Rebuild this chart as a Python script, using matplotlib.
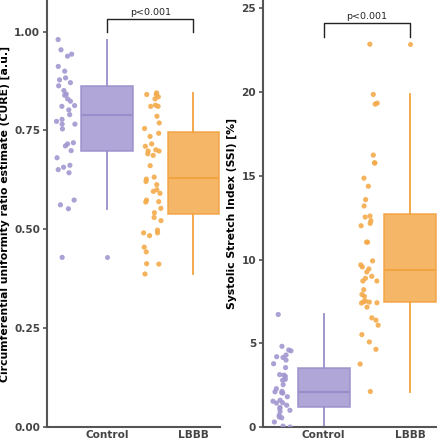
import numpy as np
import matplotlib
matplotlib.use("Agg")
import matplotlib.pyplot as plt

groups = ["Control", "LBBB"]

cure_control = [0.980, 0.954, 0.943, 0.938, 0.912, 0.900, 0.883, 0.878, 0.871, 0.863,
                0.851, 0.842, 0.839, 0.830, 0.824, 0.813, 0.811, 0.802, 0.790, 0.778,
                0.773, 0.766, 0.766, 0.754, 0.719, 0.716, 0.711, 0.699, 0.681, 0.662,
                0.657, 0.651, 0.643, 0.574, 0.562, 0.552, 0.429]
cure_lbbb = [0.845, 0.841, 0.841, 0.835, 0.830, 0.814, 0.811, 0.811, 0.786, 0.769,
             0.755, 0.743, 0.735, 0.716, 0.710, 0.701, 0.698, 0.698, 0.691, 0.687,
             0.661, 0.632, 0.627, 0.621, 0.613, 0.600, 0.596, 0.591, 0.574, 0.570,
             0.569, 0.553, 0.542, 0.530, 0.522, 0.498, 0.491, 0.491, 0.484, 0.455,
             0.443, 0.413, 0.412, 0.387]

ssi_control = [6.72, 4.82, 4.60, 4.55, 4.30, 4.20, 4.15, 4.00, 3.78, 3.55,
               3.13, 3.10, 3.03, 2.85, 2.79, 2.53, 2.29, 2.13, 2.10, 2.05,
               2.03, 1.81, 1.60, 1.54, 1.45, 1.43, 1.30, 1.17, 1.10, 1.00,
               0.93, 0.70, 0.60, 0.55, 0.30, 0.05, 0.00]
ssi_lbbb = [22.86, 19.86, 19.34, 19.28, 16.24, 15.78, 15.76, 14.86, 14.38, 13.58,
            13.20, 12.60, 12.54, 12.32, 12.16, 12.02, 11.04, 11.04, 9.92, 9.68,
            9.56, 9.44, 9.26, 9.00, 8.88, 8.72, 8.72, 8.20, 7.92, 7.80,
            7.52, 7.48, 7.46, 7.42, 7.40, 7.16, 6.52, 6.38, 6.08, 5.52,
            5.08, 4.64, 3.76, 2.12]

y_labels = ["Circumferential uniformity ratio estimate (CURE) [a.u.]",
            "Systolic Stretch Index (SSI) [%]"]
p_text = "p<0.001"

COLORS = ["#a397d0", "#f4ab4c"]
EDGE = ["#9a8dca", "#f2a33f"]
TICK_COLOR = "#444444"

rng = np.random.default_rng(3)


def draw_panel(ax, data, ylabel, ylim, yticks, ytick_fmt, bracket):
    for i, values in enumerate(data):
        ax.boxplot(
            [values], positions=[i], widths=0.6, patch_artist=True,
            showcaps=False, whis=1.5,
            boxprops=dict(facecolor=COLORS[i], edgecolor=EDGE[i], alpha=0.85, linewidth=1.2),
            whiskerprops=dict(color=EDGE[i], linewidth=1.3),
            medianprops=dict(color=EDGE[i], linewidth=1.5),
            flierprops=dict(marker="o", markersize=3.6, markerfacecolor=COLORS[i],
                            markeredgecolor="none", alpha=0.9),
        )
        jitter = rng.uniform(-0.11, 0.11, len(values))
        ax.scatter(i - 0.48 + jitter, values, s=14, color=COLORS[i],
                   edgecolors="none", alpha=0.9, zorder=3)

    ax.set_xlim(-0.70, 1.31)
    ax.set_ylim(*ylim)
    ax.set_xticks(range(len(groups)))
    ax.set_xticklabels(groups)
    ax.set_yticks(yticks)
    ax.set_yticklabels([ytick_fmt.format(t) for t in yticks])
    ax.tick_params(axis="x", length=0, pad=2)
    ax.tick_params(axis="y", length=3, width=1.2, color="#555555", pad=2)
    for lab in ax.get_xticklabels() + ax.get_yticklabels():
        lab.set_fontweight("bold")
        lab.set_color(TICK_COLOR)
        lab.set_fontsize(7.6)
    ax.set_ylabel(ylabel, fontsize=7.8, fontweight="bold", labelpad=3)
    for side in ("top", "right"):
        ax.spines[side].set_visible(False)
    for side in ("left", "bottom"):
        ax.spines[side].set_color("#555555")
        ax.spines[side].set_linewidth(1.5)

    low, high, text_y = bracket
    ax.plot([0, 0, 1, 1], [low, high, high, low], color="#222222", linewidth=1.0)
    ax.text(0.5, text_y, p_text, ha="center", va="bottom", fontsize=6.8, color="#222222")


fig = plt.figure(figsize=(4.37, 4.40), dpi=100)
ax1 = fig.add_axes([0.1076, 0.0295, 0.396, 0.9705])
ax2 = fig.add_axes([0.602, 0.0295, 0.398, 0.9705])

draw_panel(ax1, [cure_control, cure_lbbb], y_labels[0], (0, 1.08),
           [0.0, 0.25, 0.5, 0.75, 1.0], "{:.2f}", (0.998, 1.033, 1.038))
draw_panel(ax2, [ssi_control, ssi_lbbb], y_labels[1], (0, 25.5),
           [0, 5, 10, 15, 20, 25], "{:d}", (23.3, 24.1, 24.25))

fig.savefig("out.png", dpi=100)
